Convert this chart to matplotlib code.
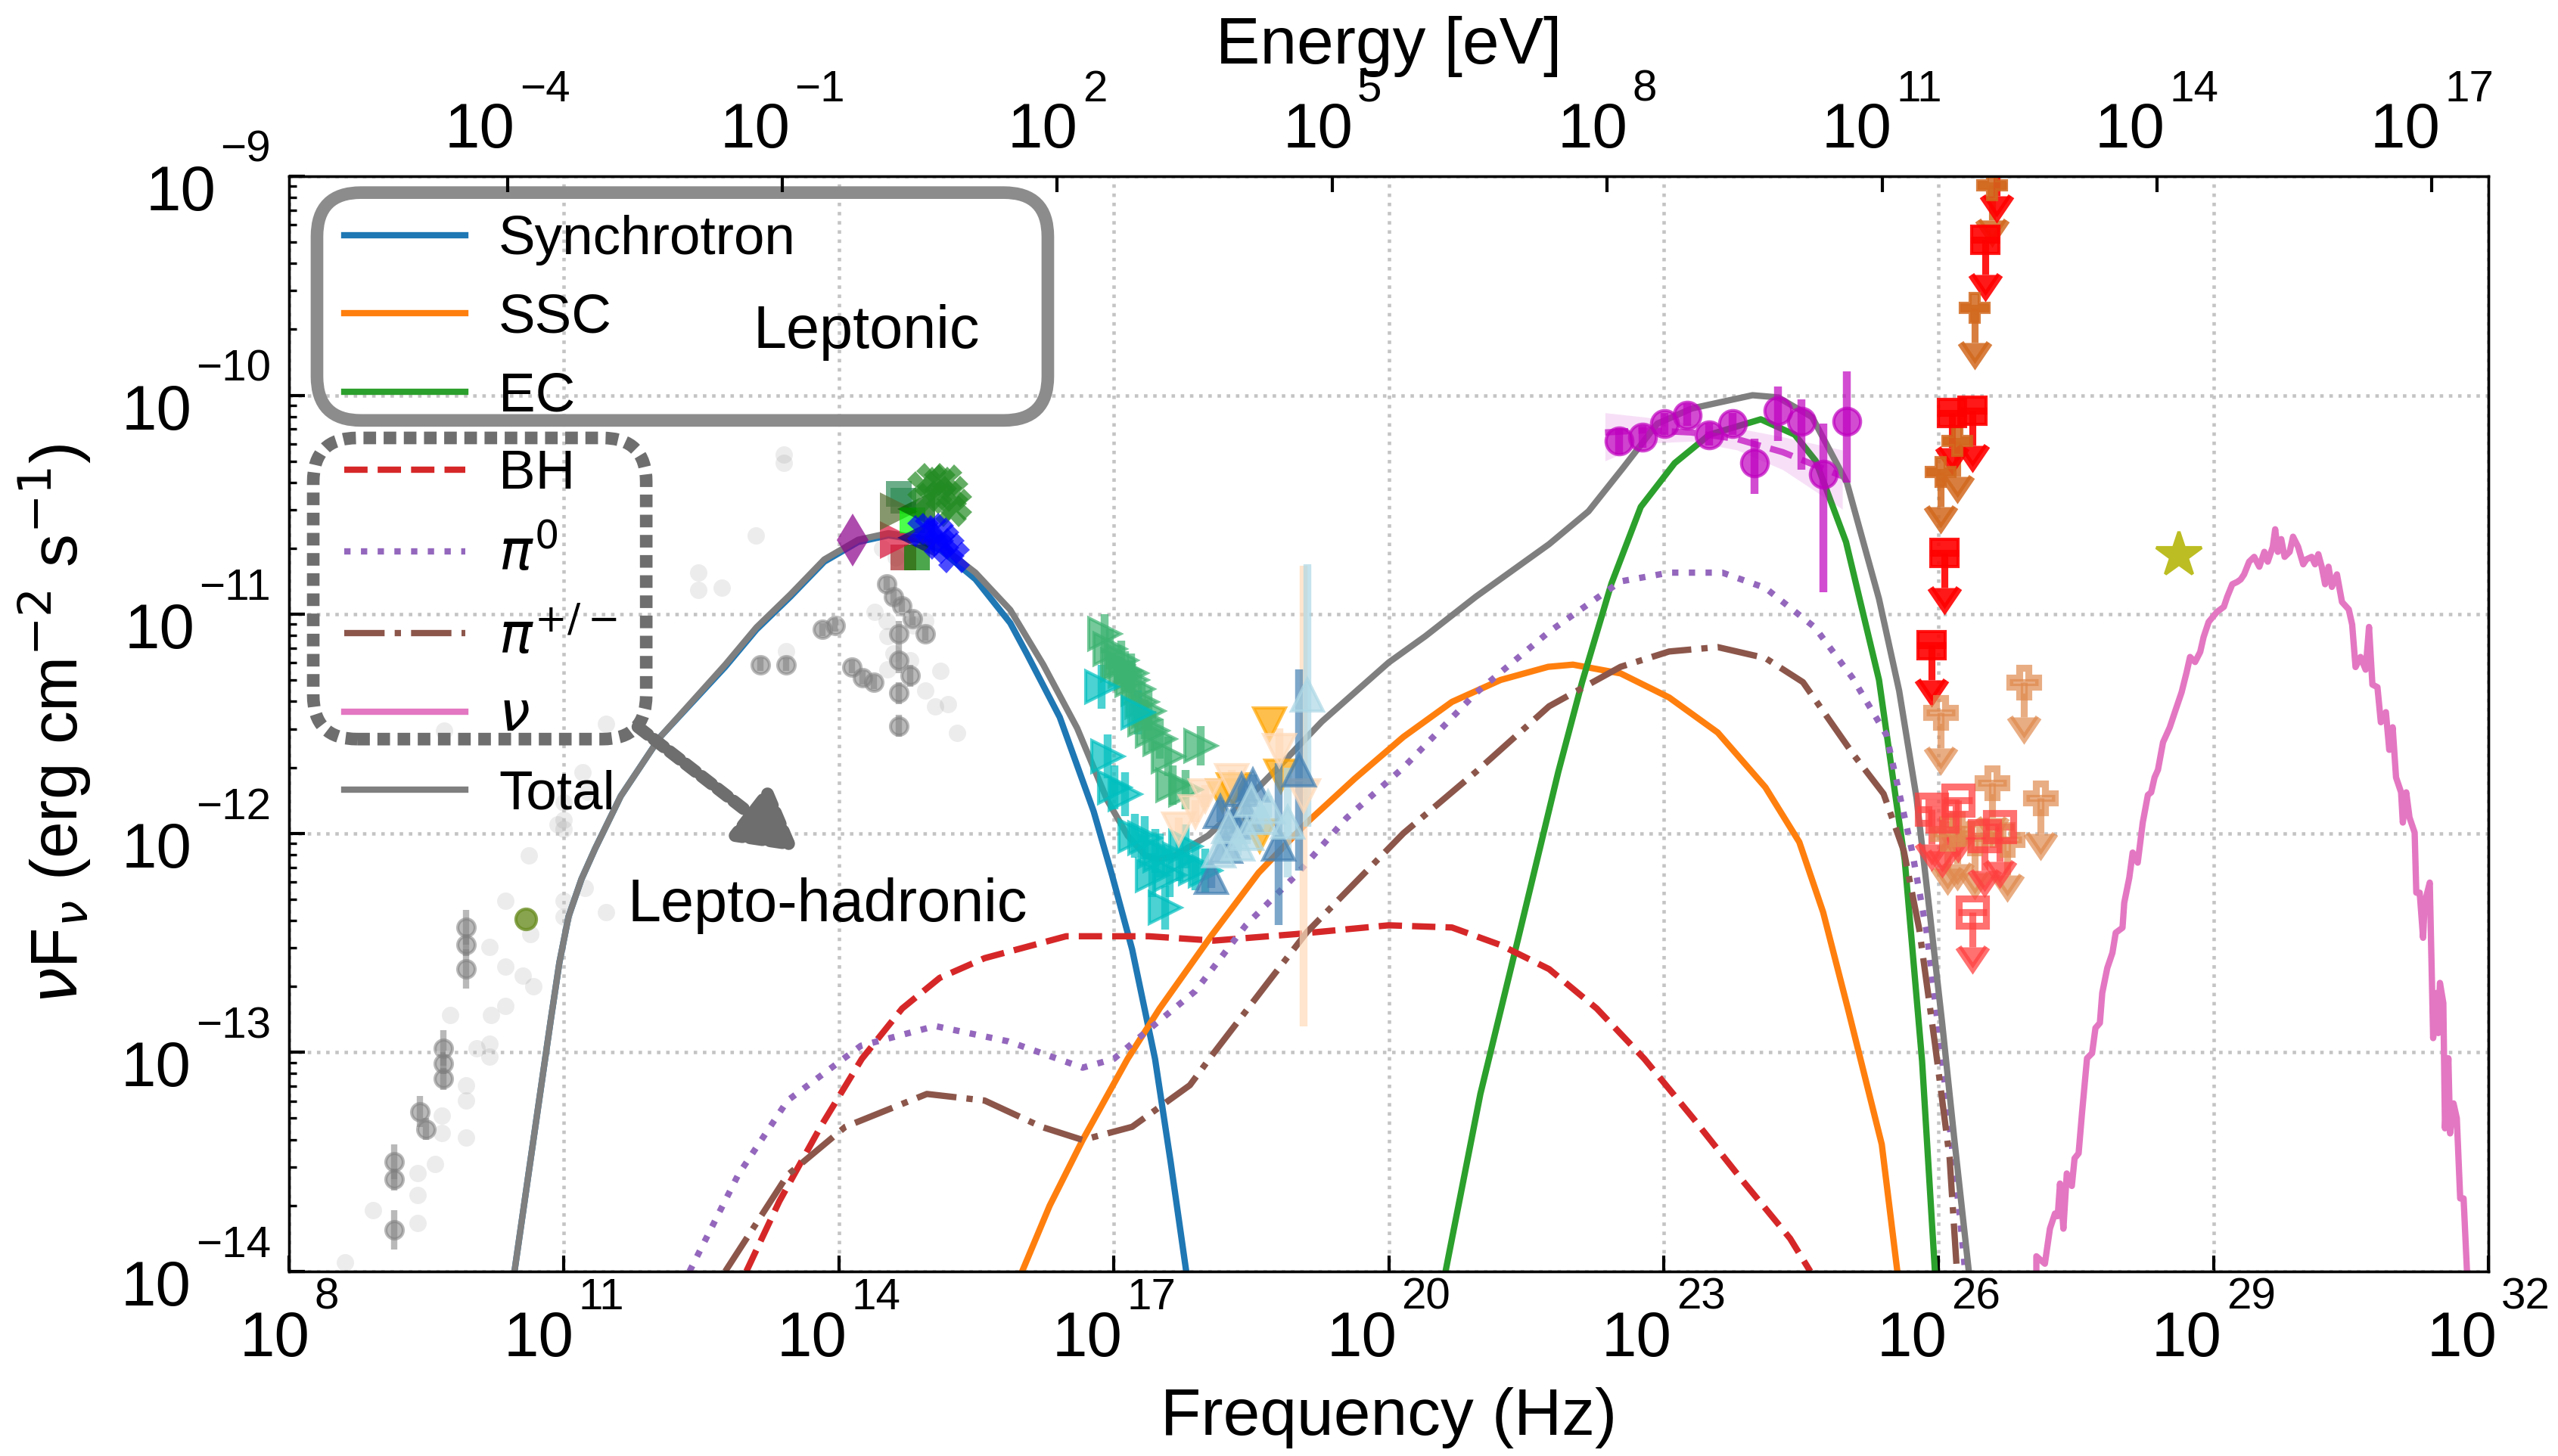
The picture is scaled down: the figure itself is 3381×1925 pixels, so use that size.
import numpy as np
import matplotlib.pyplot as plt
import matplotlib.transforms as mtransforms
from matplotlib.patches import FancyBboxPatch
from matplotlib.ticker import NullLocator

plt.rcParams['font.family'] = ['Liberation Sans', 'DejaVu Sans']
plt.rcParams['mathtext.fontset'] = 'dejavusans'

H_EV = 4.135667e-15  # Planck constant [eV s]

# === model curves, log10(nu/Hz) and log10(nuFnu) ===
sync_lx = [10.46, 10.67, 10.77, 10.86, 10.95, 11.05, 11.19, 11.34, 11.48, 11.62, 12.05, 12.76, 13.10,
           13.47, 13.84, 14.21, 14.54, 14.87, 15.12, 15.49, 15.87, 16.05, 16.41, 16.78, 16.98, 17.20,
           17.45, 17.62, 17.79]
sync_ly = [-14.00, -13.39, -13.10, -12.84, -12.59, -12.38, -12.21, -12.07, -11.95, -11.83, -11.56, -11.24,
           -11.07, -10.92, -10.76, -10.67, -10.64, -10.66, -10.71, -10.84, -11.04, -11.18, -11.47, -11.90,
           -12.19, -12.53, -13.03, -13.50, -14.00]

ssc_lx = [16.00, 16.30, 16.66, 17.15, 17.50, 18.06, 18.58, 19.11, 19.63, 20.16, 20.69, 21.22,
          21.74, 22.01, 22.53, 23.06, 23.59, 24.11, 24.48, 24.74, 25.01, 25.38, 25.55]
ssc_ly = [-14.00, -13.70, -13.40, -13.03, -12.80, -12.47, -12.18, -11.95, -11.75, -11.56, -11.40, -11.30,
          -11.24, -11.23, -11.27, -11.38, -11.54, -11.79, -12.04, -12.36, -12.80, -13.42, -14.00]

ec_lx = [20.62, 21.00, 21.43, 21.85, 22.11, 22.43, 22.75, 23.12, 23.50, 24.06, 24.43, 24.66,
         24.99, 25.35, 25.54, 25.63, 25.82, 25.96]
ec_ly = [-14.00, -13.19, -12.45, -11.72, -11.31, -10.86, -10.51, -10.31, -10.18, -10.11, -10.18, -10.30,
         -10.67, -11.30, -11.86, -12.12, -13.04, -14.00]

bh_lx = [12.99, 13.35, 13.80, 14.25, 14.69, 15.10, 15.59, 16.48, 17.38, 18.09, 18.99, 20.00,
         20.69, 21.22, 21.75, 22.27, 22.79, 23.32, 23.85, 24.38, 24.60]
bh_ly = [-14.00, -13.68, -13.34, -13.03, -12.80, -12.66, -12.57, -12.47, -12.47, -12.49, -12.46, -12.42,
         -12.43, -12.51, -12.62, -12.80, -13.03, -13.30, -13.58, -13.85, -14.00]

pi0_lx = [12.37, 12.90, 13.44, 14.24, 15.05, 15.85, 16.66, 17.00, 17.34, 17.89, 18.44, 18.99, 19.54,
          20.16, 20.95, 21.75, 22.53, 23.06, 23.64, 24.11, 24.65, 25.06, 25.43, 25.71, 25.87, 26.04,
          26.23, 26.29]
pi0_ly = [-14.00, -13.56, -13.22, -12.97, -12.88, -12.95, -13.07, -13.03, -12.91, -12.72, -12.42, -12.19,
          -11.93, -11.70, -11.36, -11.08, -10.85, -10.81, -10.81, -10.88, -11.06, -11.29, -11.55, -12.08,
          -12.45, -13.04, -13.74, -14.00]

pipm_lx = [12.76, 13.44, 14.07, 14.96, 15.59, 16.21, 16.66, 17.20, 17.83, 18.06, 18.72, 19.11, 19.60,
           20.16, 20.95, 21.75, 22.53, 23.06, 23.59, 24.11, 24.52, 25.07, 25.40, 25.62, 25.79, 25.96,
           26.12, 26.20]
pipm_ly = [-14.00, -13.56, -13.34, -13.19, -13.22, -13.34, -13.40, -13.34, -13.15, -13.02, -12.66, -12.45,
           -12.24, -12.00, -11.72, -11.42, -11.24, -11.17, -11.15, -11.20, -11.31, -11.64, -11.82, -12.08,
           -12.44, -12.96, -13.48, -14.00]

nu_lx = [27.067, 27.067, 27.160, 27.215, 27.270, 27.300, 27.325, 27.362, 27.399, 27.454, 27.484, 27.528,
         27.565, 27.620, 27.675, 27.712, 27.760, 27.786, 27.841, 27.897, 27.933, 28.007, 28.026, 28.081,
         28.118, 28.173, 28.228, 28.284, 28.320, 28.357, 28.394, 28.449, 28.523, 28.578, 28.652, 28.707,
         28.744, 28.799, 28.855, 28.892, 28.947, 29.039, 29.113, 29.149, 29.205, 29.260, 29.297, 29.334,
         29.389, 29.444, 29.500, 29.555, 29.592, 29.647, 29.673, 29.702, 29.739, 29.776, 29.831, 29.868,
         29.923, 29.979, 30.015, 30.071, 30.108, 30.144, 30.181, 30.218, 30.255, 30.292, 30.347, 30.402,
         30.476, 30.513, 30.550, 30.605, 30.660, 30.697, 30.734, 30.789, 30.826, 30.881, 30.918, 30.955,
         30.992, 31.047, 31.066, 31.103, 31.139, 31.195, 31.213, 31.250, 31.287, 31.305, 31.360, 31.397,
         31.434, 31.453, 31.471, 31.508, 31.526, 31.563, 31.582, 31.619, 31.655, 31.692, 31.729, 31.766]
nu_ly = [-14.000, -13.931, -13.965, -13.805, -13.736, -13.748, -13.599, -13.805, -13.553, -13.610, -13.484,
         -13.461, -13.278, -13.027, -13.004, -12.889, -12.866, -12.729, -12.615, -12.546, -12.454, -12.431,
         -12.317, -12.203, -12.088, -12.134, -11.951, -11.825, -11.813, -11.745, -11.710, -11.585, -11.516,
         -11.447, -11.356, -11.264, -11.195, -11.218, -11.172, -11.104, -11.035, -10.989, -10.966, -10.921,
         -10.863, -10.852, -10.841, -10.818, -10.760, -10.738, -10.783, -10.715, -10.760, -10.692, -10.612,
         -10.715, -10.657, -10.738, -10.715, -10.646, -10.692, -10.772, -10.749, -10.738, -10.772, -10.726,
         -10.783, -10.863, -10.783, -10.875, -10.818, -10.944, -10.978, -11.047, -11.241, -11.195, -11.253,
         -11.058, -11.321, -11.333, -11.493, -11.447, -11.619, -11.516, -11.745, -11.813, -11.951, -11.813,
         -11.928, -11.997, -12.271, -12.271, -12.477, -12.317, -12.225, -12.935, -12.729, -12.912, -12.683,
         -12.775, -13.347, -13.027, -13.370, -13.233, -13.301, -13.667, -13.667, -14.000]

tot_lx = [10.46, 10.67, 10.77, 10.86, 10.95, 11.05, 11.19, 11.34, 11.48, 11.62, 12.05, 12.76, 13.10,
          13.47, 13.84, 14.21, 14.54, 14.87, 15.12, 15.49, 15.87, 16.23, 16.60, 16.93, 17.15, 17.34,
          17.48, 17.67, 18.03, 18.44, 18.86, 19.27, 20.00, 20.40, 20.95, 21.75, 22.18, 22.56, 22.93,
          23.31, 23.97, 24.25, 24.62, 25.00, 25.35, 25.57, 25.76, 25.90, 26.04, 26.17, 26.33]
tot_ly = [-14.00, -13.39, -13.10, -12.84, -12.59, -12.38, -12.21, -12.07, -11.95, -11.83, -11.56, -11.23,
          -11.06, -10.91, -10.75, -10.66, -10.63, -10.65, -10.69, -10.81, -10.98, -11.23, -11.52, -11.85,
          -12.01, -12.10, -12.12, -12.10, -12.01, -11.85, -11.67, -11.49, -11.22, -11.10, -10.92, -10.68,
          -10.53, -10.33, -10.13, -10.06, -10.00, -10.01, -10.10, -10.40, -10.93, -11.35, -11.84, -12.35,
          -12.87, -13.39, -14.00]

# === archival radio-optical data (grey) ===
arch_dark_lx = [9.15, 9.15, 9.15, 9.43, 9.49, 9.68, 9.68, 9.68, 9.93, 9.93, 9.93, 13.14, 13.42, 13.82,
                13.96, 14.14, 14.26, 14.38, 14.52, 14.60, 14.69, 14.80, 14.94, 14.65, 14.65, 14.78,
                14.65, 14.65]
arch_dark_ly = [-13.50, -13.58, -13.81, -13.27, -13.35, -12.98, -13.05, -13.12, -12.43, -12.51, -12.62,
                -11.23, -11.23, -11.07, -11.05, -11.24, -11.29, -11.31, -10.86, -10.92, -10.96, -11.02,
                -11.09, -11.09, -11.21, -11.28, -11.36, -11.51]
arch_dark_err = [0.08, 0.05, 0.09, 0.07, 0.05, 0.08, 0.05, 0.05, 0.08, 0.05, 0.09, 0.03, 0.03, 0.03,
                 0.03, 0.03, 0.03, 0.03, 0.03, 0.03, 0.03, 0.03, 0.03, 0.06, 0.06, 0.05, 0.05, 0.05]
arch_light_lx = [8.61, 8.92, 9.40, 9.40, 9.40, 9.67, 9.67, 9.59, 9.93, 9.93, 9.93, 10.05, 10.19, 10.19,
                 10.20, 9.76, 10.36, 10.67, 10.55, 10.36, 10.19, 10.36, 10.63, 11.00, 11.00, 11.23, 11.46,
                 10.62, 9.69, 11.00, 11.00, 11.00, 11.26, 11.46, 12.47, 12.47, 12.72, 13.09, 13.40, 13.40,
                 13.42, 14.39, 14.52, 14.53, 14.60, 14.53, 14.78, 14.81, 14.94, 15.11, 14.94, 15.05, 15.19,
                 15.29, 14.47, 14.62, 10.93, 11.20]
arch_light_ly = [-13.96, -13.72, -13.55, -13.65, -13.78, -13.29, -13.37, -13.51, -13.15, -13.22, -13.39,
                 -12.98, -12.96, -13.02, -12.83, -12.83, -12.79, -12.70, -12.65, -12.61, -12.52, -12.31,
                 -12.46, -12.31, -12.38, -12.25, -12.36, -12.10, -11.53, -11.86, -11.94, -11.98, -11.81,
                 -11.50, -10.81, -10.89, -10.88, -10.64, -10.31, -10.27, -11.17, -10.99, -11.03, -11.10,
                 -11.18, -11.25, -11.21, -11.05, -11.03, -11.26, -11.35, -11.42, -11.41, -11.54, -10.70,
                 -10.74, -11.96, -11.72]
radio_lx = [10.58]
radio_ly = [-12.39]

# === optical / UV (simultaneous) ===
opt_sets = [  # (colour, marker, size, log nu list, log flux list)
    ('darkmagenta', 'd', 12, [14.15], [-10.66]),
    ('seagreen', 's', 8, [14.65, 14.70], [-10.45, -10.48]),
    ('brown', 's', 8, [14.70], [-10.74]),
    ('green', 's', 8, [14.85], [-10.74]),
    ('crimson', '>', 12, [14.65], [-10.66]),
    ('darkolivegreen', '>', 12, [14.65], [-10.53]),
    ('lime', 's', 8, [14.80], [-10.57]),
    ('darkgreen', '<', 12, [14.84], [-10.52]),
    ('navy', '<', 12, [14.84], [-10.65]),
    ('forestgreen', 'X', 10, [14.92, 15.02, 15.10, 15.17, 15.24, 15.28, 15.00, 15.12, 15.22],
     [-10.42, -10.38, -10.40, -10.39, -10.44, -10.50, -10.47, -10.46, -10.53]),
    ('blue', 'X', 10, [14.92, 15.00, 15.08, 15.14, 15.20, 15.26, 15.10],
     [-10.62, -10.61, -10.63, -10.66, -10.70, -10.74, -10.68]),
]

# === X-ray ===
xrt_g_lx = [16.90, 16.96, 17.04, 17.08, 17.12, 17.19, 17.20, 17.26, 17.30, 17.34, 17.38, 17.42, 17.50,
            17.59, 17.64, 17.78, 17.95]
xrt_g_ly = [-11.09, -11.16, -11.23, -11.21, -11.26, -11.27, -11.30, -11.34, -11.40, -11.48, -11.44,
            -11.53, -11.57, -11.65, -11.78, -11.80, -11.60]
xrt_c_lx = [16.87, 16.93, 17.01, 17.12, 17.26, 17.23, 17.34, 17.42, 17.45, 17.50, 17.56, 17.61, 17.72,
            17.78, 17.89, 18.00]
xrt_c_ly = [-11.33, -11.65, -11.79, -11.82, -11.45, -12.01, -12.02, -12.19, -12.08, -12.10, -12.34,
            -12.19, -12.12, -12.06, -12.16, -12.17]
bat_sb_lx = [18.06, 18.16, 18.22, 18.30, 18.39, 18.45, 18.52, 18.80, 19.02]
bat_sb_ly = [-12.20, -11.90, -12.06, -11.95, -11.80, -11.92, -11.78, -12.05, -11.71]
bat_sb_err = [0.05, 0.05, 0.05, 0.05, 0.05, 0.05, 0.05, 0.37, 0.46]
bat_lb_lx = [18.15, 18.25, 18.35, 18.45, 18.50, 18.60, 18.68, 18.90, 19.11]
bat_lb_ly = [-12.08, -11.97, -12.05, -12.00, -11.85, -11.93, -11.88, -11.95, -11.37]
bat_lb_err = [0.05, 0.05, 0.05, 0.05, 0.05, 0.05, 0.05, 0.25, 0.60]
nus_o_lx = [18.19, 18.30, 18.59, 18.70, 18.82]
nus_o_ly = [-11.83, -11.80, -12.01, -11.50, -11.74]
nus_p_lx = [17.71, 17.89, 18.00, 18.29, 18.81, 19.07]
nus_p_ly = [-11.98, -11.90, -11.83, -11.76, -11.62, -11.83]
nus_p_err = [0.05, 0.05, 0.05, 0.05, 0.10, 1.05]

# === Fermi-LAT ===
lat_lx = [22.51, 22.77, 23.01, 23.26, 23.50, 23.75, 23.99, 24.25, 24.50, 24.74, 25.00]
lat_ly = [-10.21, -10.19, -10.13, -10.09, -10.18, -10.13, -10.31, -10.07, -10.12, -10.36, -10.12]
lat_lo = [-10.27, -10.24, -10.18, -10.14, -10.23, -10.18, -10.45, -10.21, -10.34, -10.90, -10.40]
lat_hi = [-10.15, -10.14, -10.08, -10.04, -10.13, -10.08, -10.20, -9.96, -10.02, -10.13, -9.89]
bf_lx = [22.36, 22.80, 23.30, 23.80, 24.30, 24.95]
bf_mid = [-10.17, -10.16, -10.17, -10.20, -10.26, -10.37]
bf_lo = [-10.30, -10.22, -10.21, -10.25, -10.34, -10.52]
bf_hi = [-10.08, -10.10, -10.13, -10.15, -10.19, -10.25]

# === VHE upper limits ===
ul_red_lx = [26.63, 26.51, 26.15, 26.37, 26.06, 25.92]
ul_red_ly = [-8.93, -9.29, -10.08, -10.07, -10.72, -11.14]
ul_choc_lx = [26.58, 26.39, 26.20, 26.02]
ul_choc_ly = [-9.04, -9.60, -10.21, -10.35]
ul_sand_lx = [26.02, 26.93, 26.58, 27.11, 26.20, 26.39, 26.75, 26.10]
ul_sand_ly = [-11.45, -11.31, -11.77, -11.84, -11.98, -12.02, -12.03, -12.00]
ul_lred_lx = [25.92, 26.04, 26.21, 26.50, 26.67, 26.37]
ul_lred_ly = [-11.89, -11.92, -11.85, -12.01, -11.97, -12.36]

# === neutrino event ===
nu_evt_lx = [28.62]
nu_evt_ly = [-10.73]

# tick decades
nu_ticks = [8, 11, 14, 17, 20, 23, 26, 29, 32]
e_ticks = [-4, -1, 2, 5, 8, 11, 14, 17]
f_ticks = [-14, -13, -12, -11, -10, -9]

UL_DEX = 0.16  # drawn length of the upper-limit arrows


def p(v):
    return 10 ** np.asarray(v, dtype=float)


def log_err(ly, dex):
    y = p(ly)
    d = np.asarray(dex, dtype=float)
    return y, [y - y * 10 ** -d, y * 10 ** d - y]


fig = plt.figure(figsize=(3381 / 300, 1925 / 300), dpi=300)
ax = fig.add_axes([0.113, 0.1268, 0.8598, 0.7522])
ax.set_xscale('log')
ax.set_yscale('log')
ax.set_xlim(1e8, 1e32)
ax.set_ylim(1e-14, 1e-9)

# === model curves ===
lw = 2.0
ax.plot(p(sync_lx), p(sync_ly), color='tab:blue', lw=lw, label='Synchrotron', zorder=2)
ax.plot(p(ssc_lx), p(ssc_ly), color='tab:orange', lw=lw, label='SSC', zorder=2)
ax.plot(p(ec_lx), p(ec_ly), color='tab:green', lw=lw, label='EC', zorder=2)
ax.plot(p(bh_lx), p(bh_ly), color='tab:red', lw=lw, ls='--', label='BH', zorder=2)
ax.plot(p(pi0_lx), p(pi0_ly), color='tab:purple', lw=lw, ls=':', label=r'$\pi^0$', zorder=2)
ax.plot(p(pipm_lx), p(pipm_ly), color='tab:brown', lw=lw, ls='-.', label=r'$\pi^{+/-}$', zorder=2)
ax.plot(p(nu_lx), p(nu_ly), color='tab:pink', lw=lw, label=r'$\nu$', zorder=2)
ax.plot(p(tot_lx), p(tot_ly), color='tab:gray', lw=lw, label='Total', zorder=2.5)

# === data ===
y, e = log_err(arch_dark_ly, arch_dark_err)
ax.errorbar(p(arch_dark_lx), y, yerr=e, fmt='o', color='gray', ms=5.5, alpha=0.55, elinewidth=2, zorder=1)
ax.plot(p(arch_light_lx), p(arch_light_ly), 'o', color='gray', ms=5.5, alpha=0.15, mew=0, zorder=1)
ax.plot(p(radio_lx), p(radio_ly), 'o', color='olivedrab', ms=6.5, alpha=0.8, zorder=3)

for col, mk, ms, lx, ly in opt_sets:
    ax.plot(p(lx), p(ly), mk, color=col, ms=ms, alpha=0.7, mew=0, zorder=3)

y, e = log_err(xrt_g_ly, [0.09] * len(xrt_g_ly))
ax.errorbar(p(xrt_g_lx), y, yerr=e, fmt='>', color='mediumseagreen', ms=10, alpha=0.7, elinewidth=2.5, zorder=3)
y, e = log_err(xrt_c_ly, [0.1] * len(xrt_c_ly))
ax.errorbar(p(xrt_c_lx), y, yerr=e, fmt='>', color='c', ms=10, alpha=0.7, elinewidth=2.5, zorder=3)
y, e = log_err(nus_p_ly, nus_p_err)
ax.errorbar(p(nus_p_lx), y, yerr=e, fmt='v', color='peachpuff', ms=10, alpha=0.7, elinewidth=2.5, zorder=3)
ax.plot(p(nus_o_lx), p(nus_o_ly), 'v', color='orange', ms=10, alpha=0.7, zorder=3)
y, e = log_err(bat_sb_ly, bat_sb_err)
ax.errorbar(p(bat_sb_lx), y, yerr=e, fmt='^', color='steelblue', ms=10, alpha=0.7, elinewidth=2.5, zorder=3)
y, e = log_err(bat_lb_ly, bat_lb_err)
ax.errorbar(p(bat_lb_lx), y, yerr=e, fmt='^', color='lightblue', ms=10, alpha=0.7, elinewidth=2.5, zorder=3)

ax.fill_between(p(bf_lx), p(bf_lo), p(bf_hi), color='m', alpha=0.12, lw=0, zorder=2)
ax.plot(p(bf_lx), p(bf_mid), '--', color='m', lw=2, alpha=0.7, zorder=2)
y = p(lat_ly)
ax.errorbar(p(lat_lx), y, yerr=[y - p(lat_lo), p(lat_hi) - y], fmt='o', color='m', ms=8.5,
            alpha=0.7, elinewidth=2.5, zorder=3)


def upper_limits(lx, ly, **kw):
    yy = p(ly)
    ax.errorbar(p(lx), yy, yerr=yy * (1 - 10 ** -UL_DEX), uplims=True, capsize=4.5,
                elinewidth=2.2, capthick=2.2, zorder=3, **kw)


upper_limits(ul_sand_lx, ul_sand_ly, fmt='P', color='#e08a4e', mfc='none', mew=2.2, ms=9, alpha=0.7)
upper_limits(ul_lred_lx, ul_lred_ly, fmt='s', color='#ff4040', mfc='none', mew=2.2, ms=8.5, alpha=0.75)
upper_limits(ul_choc_lx, ul_choc_ly, fmt='P', color='chocolate', ms=9, alpha=0.85)
upper_limits(ul_red_lx, ul_red_ly, fmt='s', color='red', ms=8.5, alpha=0.9)

ax.plot(p(nu_evt_lx), p(nu_evt_ly), '*', color='tab:olive', ms=15, zorder=3)

# === axes ===
ax.set_xticks(p(nu_ticks))
ax.set_yticks(p(f_ticks))
ax.xaxis.set_minor_locator(NullLocator())
ax.grid(True, which='major', ls=':', color='#c4c4c4', lw=1.1)
ax.tick_params(which='both', direction='in', top=False, right=False, labelbottom=False, labelleft=False)
ax.tick_params(which='major', length=5, width=1)
ax.tick_params(which='minor', length=2.5, width=0.8)
ax.set_xlabel('Frequency (Hz)', fontsize=21)
ax.set_ylabel(r'$\nu$F$_\nu$ (erg cm$^{-2}$ s$^{-1}$)', fontsize=21)
ax.xaxis.set_label_coords(0.5, -0.106)
ax.yaxis.set_label_coords(-0.089, 0.5)

ax2 = ax.twiny()
ax2.set_xscale('log')
ax2.set_xlim(1e8 * H_EV, 1e32 * H_EV)
ax2.set_xticks(p(e_ticks))
ax2.xaxis.set_minor_locator(NullLocator())
ax2.tick_params(which='both', direction='in', length=5, width=1, labeltop=False)
ax2.set_xlabel('Energy [eV]', fontsize=21)
ax2.xaxis.set_label_coords(0.5, 1.103)

# --- power-of-ten tick labels with the exponent sitting above the "10" ---
renderer = fig.canvas.get_renderer()


def power_label(host, tr, x, y, expo, mode):
    base = host.text(x, y, '10', transform=tr, fontsize=20, ha='left', va='baseline')
    sup = host.text(x, y, str(expo).replace('-', '\u2212'), transform=tr, fontsize=14,
                    ha='left', va='baseline')
    w10 = base.get_window_extent(renderer).width
    we = sup.get_window_extent(renderer).width
    gap = 6
    if mode == 'left':
        xe = -24 - we
        x10 = xe - gap - w10
        y10, ye = -45, 19
    else:
        x10 = -(w10 + gap + we) / 2
        xe = x10 + w10 + gap
        y10, ye = (-112, -50) if mode == 'bottom' else (38, 99)
    base.set_transform(mtransforms.offset_copy(tr, fig=fig, x=x10, y=y10, units='dots'))
    sup.set_transform(mtransforms.offset_copy(tr, fig=fig, x=xe, y=ye, units='dots'))


tr_left = mtransforms.blended_transform_factory(ax.transAxes, ax.transData)
tr_bottom = mtransforms.blended_transform_factory(ax.transData, ax.transAxes)
tr_top = mtransforms.blended_transform_factory(ax2.transData, ax2.transAxes)
for k in f_ticks:
    power_label(ax, tr_left, 0, 10.0 ** k, k, 'left')
for k in nu_ticks:
    power_label(ax, tr_bottom, 10.0 ** k, 0, k, 'bottom')
for k in e_ticks:
    power_label(ax2, tr_top, 10.0 ** k, 1, k, 'top')

# === legend with grouping boxes ===
ax.legend(loc='upper left', bbox_to_anchor=(0.0, 1.015), frameon=False, fontsize=17.5,
          handlelength=2.2, handletextpad=0.6, labelspacing=0.5, borderaxespad=0.6)

asp = 2907 / 1448
ax.add_patch(FancyBboxPatch((0.0127, 0.777), 0.3323, 0.208, boxstyle='round,pad=0,rounding_size=0.02',
                            transform=ax.transAxes, mutation_aspect=asp, fill=False, lw=4,
                            ec='#8c8c8c', zorder=5, clip_on=False))
ax.add_patch(FancyBboxPatch((0.011, 0.486), 0.1514, 0.275, boxstyle='round,pad=0,rounding_size=0.02',
                            transform=ax.transAxes, mutation_aspect=asp, fill=False, lw=4,
                            ls=(0, (1, 0.6)), ec='#6e6e6e', zorder=5, clip_on=False))
ax.annotate('', xy=(0.2318, 0.3833), xytext=(0.1586, 0.4972), xycoords='axes fraction',
            arrowprops=dict(arrowstyle='-|>,head_length=0.75,head_width=0.42', lw=4,
                            ls=(0, (1, 0.6)), color='#6e6e6e', shrinkA=0, shrinkB=0,
                            mutation_scale=20), zorder=5)
ax.text(0.2109, 0.857, 'Leptonic', transform=ax.transAxes, fontsize=19, va='center', ha='left')
ax.text(0.1538, 0.3336, 'Lepto-hadronic', transform=ax.transAxes, fontsize=19, va='center', ha='left')

fig.savefig('out.png', dpi=300)
